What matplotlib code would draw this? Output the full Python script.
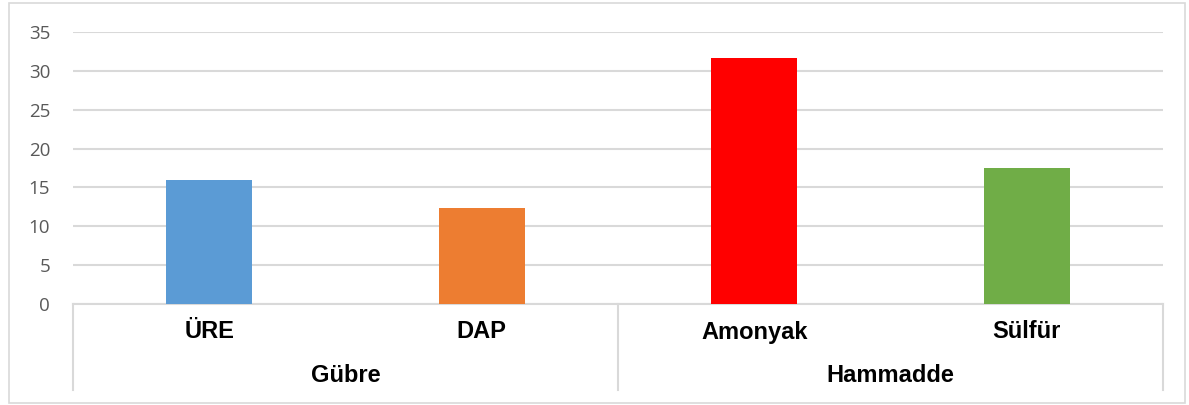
import matplotlib
matplotlib.use("Agg")
import matplotlib.pyplot as plt
from matplotlib.patches import Rectangle
from matplotlib.transforms import blended_transform_factory

categories = ["ÜRE", "DAP", "Amonyak", "Sülfür"]
groups = ["Gübre", "Hammadde"]
group_sizes = [2, 2]
values = [16.0, 12.4, 31.6, 17.5]
colors = ["#5B9BD5", "#ED7D31", "#FF0000", "#70AD47"]
yticks = [0, 5, 10, 15, 20, 25, 30, 35]

W, H = 1189, 405
fig = plt.figure(figsize=(W / 100, H / 100), dpi=100)
fig.patches.append(Rectangle((9 / W, 2 / H), (1185 - 9) / W, (402 - 2) / H,
                             transform=fig.transFigure, fill=False,
                             edgecolor="#d9d9d9", linewidth=1.2))

left, right, y0, ytop = 73, 1163, 304, 32
ax = fig.add_axes([left / W, (H - y0) / H, (right - left) / W, (y0 - ytop) / H])
x = list(range(len(categories)))
ax.bar(x, values, width=0.316, color=colors, zorder=3)
ax.set_xlim(-0.5, len(categories) - 0.5)
ax.set_ylim(0, 35)
ax.set_yticks(yticks)
ax.set_yticklabels([str(v) for v in yticks], fontsize=13.5, color="#595959",
                   family="Open Sans")
ax.tick_params(axis="y", length=0, pad=16.5)
ax.set_xticks([])
for s in ["top", "right", "left"]:
    ax.spines[s].set_visible(False)
ax.spines["bottom"].set_color("#d9d9d9")
ax.spines["bottom"].set_linewidth(1.5)
ax.grid(axis="y", color="#d9d9d9", linewidth=1.5, zorder=0)

tr = blended_transform_factory(ax.transData, ax.transAxes)
ph = y0 - ytop
line_bottom = -(390 - y0) / ph
bounds = [-0.5]
for g in group_sizes:
    bounds.append(bounds[-1] + g)
for b in bounds:
    ax.plot([b, b], [0, line_bottom], transform=tr, color="#d9d9d9",
            linewidth=1.5, clip_on=False)
for i, c in enumerate(categories):
    ax.text(i, -(332 - y0) / ph, c, transform=tr, ha="center", va="center",
            fontsize=17, fontweight="bold", family="Liberation Sans")
for gi, g in enumerate(groups):
    cx = (bounds[gi] + bounds[gi + 1]) / 2
    ax.text(cx, -(376 - y0) / ph, g, transform=tr, ha="center", va="center",
            fontsize=17, fontweight="bold", family="Liberation Sans")

fig.savefig("out.png", dpi=100)
